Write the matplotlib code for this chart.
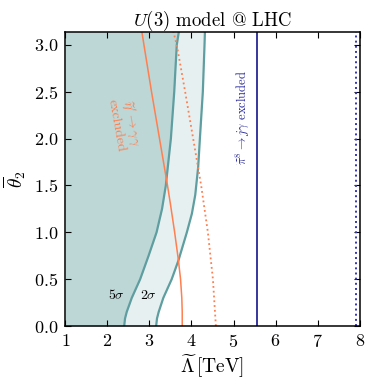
import numpy as np
import matplotlib
matplotlib.use("Agg")
import matplotlib.pyplot as plt

plt.rcParams['font.family'] = 'serif'
plt.rcParams['font.serif'] = ['cmr10', 'DejaVu Serif']
plt.rcParams['mathtext.fontset'] = 'cm'
plt.rcParams['axes.formatter.use_mathtext'] = True
plt.rcParams['axes.unicode_minus'] = False

# --- curves: Lambda [TeV] at given theta_2 ---
theta_5s = [0.0, 0.08, 0.15, 0.3, 0.5, 0.75, 1.0, 1.25, 1.5, 2.0, 2.5, 3.0, np.pi]
lam_5s   = [2.40, 2.42, 2.46, 2.58, 2.78, 2.98, 3.17, 3.30, 3.39, 3.51, 3.59, 3.65, 3.70]

theta_2s = [0.0, 0.08, 0.15, 0.3, 0.5, 0.7, 1.0, 1.2, 1.4, 1.7, 2.0, 2.5, 3.0, np.pi]
lam_2s   = [3.16, 3.18, 3.22, 3.33, 3.53, 3.69, 3.89, 4.01, 4.09, 4.16, 4.20, 4.27, 4.31, 4.32]

theta_eta = [0.0, 0.15, 0.3, 0.5, 0.7, 1.0, 1.3, 1.5, 2.0, 2.5, 3.0, np.pi]
lam_eta   = [3.78, 3.78, 3.77, 3.74, 3.69, 3.60, 3.50, 3.43, 3.24, 3.05, 2.87, 2.82]

theta_eta_dot = [0.0, 0.5, 1.0, 1.5, 2.0, 2.5, 3.0, np.pi]
lam_eta_dot   = [4.58, 4.51, 4.39, 4.23, 4.04, 3.85, 3.65, 3.57]

lam_pi8 = 5.55
lam_pi8_dot = 7.90

teal = '#5f9ea0'
coral = '#ff7f50'

fig = plt.figure(figsize=(3.74, 3.91), dpi=100)
ax = fig.add_axes([0.1746, 0.1662, 0.7872, 0.7528])

ax.fill_betweenx(theta_2s, 1, lam_2s, color=teal, alpha=0.15, lw=0)
ax.fill_betweenx(theta_5s, 1, lam_5s, color=teal, alpha=0.3, lw=0)
ax.plot(lam_5s, theta_5s, color=teal, lw=1.6)
ax.plot(lam_2s, theta_2s, color=teal, lw=1.6)

ax.plot(lam_eta, theta_eta, color=coral, lw=1.1)
ax.plot(lam_eta_dot, theta_eta_dot, color=coral, lw=1.3, ls=':')

ax.axvline(lam_pi8, color='navy', lw=1.1)
ax.axvline(lam_pi8_dot, color='#3535b5', lw=1.4, ls=':')

ax.text(2.22, 0.33, r'$5\sigma$', fontsize=10, ha='center', va='center')
ax.text(2.98, 0.33, r'$2\sigma$', fontsize=10, ha='center', va='center')
ax.text(2.42, 2.15, "$\\widetilde{\\eta}' \\to \\gamma\\gamma$\nexcluded",
        color=coral, fontsize=10, rotation=-80, ha='center', va='center',
        linespacing=1.0)
ax.text(5.22, 2.22, r'$\widetilde{\pi}^8 \to j\gamma$ excluded',
        color='#2a2a9a', fontsize=9, rotation=90, ha='center', va='center')

ax.set_xlim(1, 8)
ax.set_ylim(0, np.pi)
ax.set_xticks(range(1, 9))
ax.set_yticks(np.arange(0, 3.01, 0.5))
ax.tick_params(direction='in', top=True, right=True, length=4.5, width=0.8,
               labelsize=13, pad=5)
for s in ax.spines.values():
    s.set_linewidth(1.1)
ax.set_xlabel(r'$\widetilde{\Lambda}\,[\mathrm{TeV}]$', fontsize=14, labelpad=2)
ax.set_ylabel(r'$\overline{\theta}_2$', fontsize=14, labelpad=4)
ax.set_title(r'$U(3)$ model @ LHC', fontsize=13.5, pad=4)

fig.savefig('out.png', dpi=100)
